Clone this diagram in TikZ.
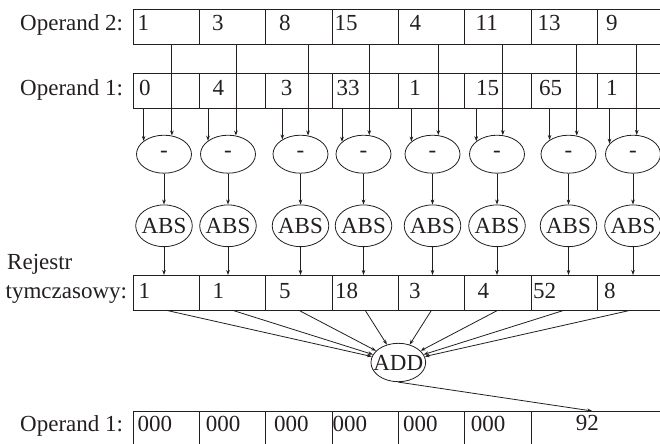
\documentclass[tikz,border=0pt]{standalone}
\usepackage{fontspec}
\setmainfont{Liberation Serif}
\usetikzlibrary{shapes.geometric,arrows.meta}
\definecolor{ink}{RGB}{35,31,32}
\begin{document}
\begin{tikzpicture}[x=1bp,y=-1bp,
  font=\fontsize{23bp}{28bp}\selectfont,
  line/.style={draw=ink, line width=0.8bp},
  arr/.style={line, -{Stealth[length=5bp,width=3.6bp]}},
  cell/.style={line, rectangle, anchor=north west, minimum width=66.3bp,
    minimum height=35bp, inner sep=0pt},
  val/.style={anchor=base west, inner sep=0pt, text=ink},
  lbl/.style={anchor=base west, inner sep=0pt, text=ink},
  minus/.style={line, ellipse, minimum width=55bp, minimum height=38bp,
    inner sep=0pt, text=ink},
  absop/.style={line, ellipse, minimum width=56.6bp, minimum height=41.7bp,
    inner xsep=-5bp, inner ysep=0pt, text=ink},
  addop/.style={line, ellipse, minimum width=54.7bp, minimum height=38.4bp,
    inner xsep=-8bp, inner ysep=0pt, text=ink},
]
\useasboundingbox (0,0) rectangle (660,444);
\clip (0,0) rectangle (660,444);

% register rows
\foreach \i in {1,...,8} {
  \node[cell] (o2c\i) at ({132.7+66.3*(\i-1)}, 9.3) {};
  \node[cell] (o1c\i) at ({132.7+66.3*(\i-1)}, 73.3) {};
  \node[cell, minimum height=34.5bp] (rc\i) at ({132.7+66.3*(\i-1)}, 275) {};
}
\foreach \i in {1,...,6}
  \node[cell] (bc\i) at ({132.7+66.3*(\i-1)}, 411) {};
\node[cell, minimum width=132.6bp] (bc7) at (530.5, 411) {};

% row labels
\node[lbl] (lop2) at (20,31) {Operand 2:};
\node[lbl] (lop1) at (20,95.5) {Operand 1:};
\node[lbl] (lrej1) at (7,270) {Rejestr};
\node[lbl] (lrej2) at (5.5,299) {tymczasowy:};
\node[lbl] (lres) at (20,431.7) {Operand 1:};

% register contents
\foreach \x/\t [count=\i] in {137.5/1, 212/3, 279/8, 334.5/15, 409.5/4, 475.5/11, 537.5/13, 606/9}
  \node[val] (o2v\i) at (\x,31) {\t};
\foreach \x/\t [count=\i] in {139/0, 212.5/4, 280.7/3, 336.3/33, 409.2/1, 475.8/15, 539/65, 605.8/1}
  \node[val] (o1v\i) at (\x,95.5) {\t};
\foreach \x/\t [count=\i] in {138.5/1, 212.5/1, 279/5, 334.8/18, 409/3, 477.3/4, 533/52, 604/8}
  \node[val] (rv\i) at (\x,299) {\t};
\foreach \x [count=\i] in {137.3, 205.7, 274, 332.3, 403, 470.7}
  \node[val] (bv\i) at (\x,431.7) {000};
\node[val] (bv7) at (575.7,430) {92};

% subtract and absolute value units
\foreach \x [count=\i] in {164,228,300.5,363.5,432.5,497,568.5,633} {
  \node[minus] (m\i) at (\x,154.2) {-};
  \node[absop] (a\i) at (\x,225.8) {ABS};
}
\node[addop] (add) at (398.3,362.5) {ADD};

% operand inputs into the subtractors, then down to the adder
\foreach \da/\db [count=\i] in {-20/7.7, -19.7/7.7, -17.8/7.5, -21.2/5.8, -20.8/5.8, -20.3/5.7, -18.5/8.2, -23/3.7} {
  \pgfmathtruncatemacro\angA{round(atan2(19*sqrt(1-(\da/27.5)^2), \da))}
  \pgfmathtruncatemacro\angB{round(atan2(19*sqrt(1-(\db/27.5)^2), \db))}
  \draw[arr] (m\i.\angA |- o1c\i.south) -- (m\i.\angA);
  \draw[arr] (m\i.\angB |- o2c\i.south) -- (m\i.\angB);
  \draw[arr] (m\i) -- (a\i);
  \draw[arr] (a\i) -- (a\i |- rc\i.north);
  \draw[arr] (rc\i.south) -- (add);
}
\draw[arr] (add.south) -- ([xshift=-5bp]bc7.north);
\end{tikzpicture}
\end{document}
